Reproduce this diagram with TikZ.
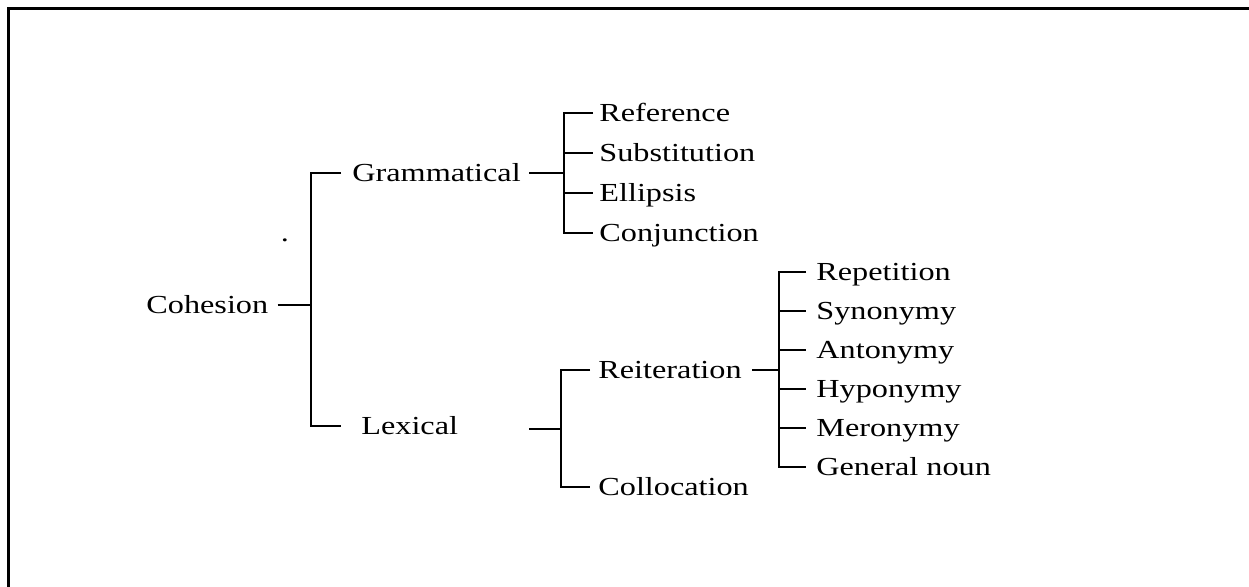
\documentclass[tikz,border=0pt]{standalone}
\usepackage{fontspec}
\setmainfont[FakeStretch=1.24]{Liberation Serif}

\begin{document}
\begin{tikzpicture}[
    x=0.5pt, y=-0.5pt,
    lbl/.style={anchor=west, inner sep=0pt, text height=8.5pt, text depth=0pt, font=\fontsize{13}{15}\selectfont},
    link/.style={line width=1.1pt},
    frame/.style={line width=1.5pt}
    ]
    \useasboundingbox (0,0) rectangle (1249,587);
    \draw[frame] (8,587) -- (8,9) -- (1249,9);

    \node[lbl] (coh) at (146,305) {Cohesion};
    \node[lbl] (gram) at (352,173) {Grammatical};
    \node[lbl] (lex) at (361,426) {Lexical};
    \node[anchor=base, inner sep=0pt, font=\fontsize{13}{15}\selectfont] (dot) at (285,242) {.};

    \node[lbl] (ref) at (599,113) {Reference};
    \node[lbl] (subst) at (599,153) {Substitution};
    \node[lbl] (ell) at (599,193) {Ellipsis};
    \node[lbl] (conj) at (599,233) {Conjunction};

    \node[lbl] (reit) at (598,370) {Reiteration};
    \node[lbl] (coll) at (598,487) {Collocation};

    \node[lbl] (rep) at (816,272) {Repetition};
    \node[lbl] (syn) at (816,311) {Synonymy};
    \node[lbl] (ant) at (816,350) {Antonymy};
    \node[lbl] (hyp) at (816,389) {Hyponymy};
    \node[lbl] (mer) at (816,428) {Meronymy};
    \node[lbl] (gen) at (816,467) {General noun};

    \coordinate (cj) at (311,305);
    \coordinate (gj) at (564,173);
    \coordinate (lexout) at (529,429);
    \coordinate (lj) at (561,429);
    \coordinate (rj) at (779,370);

    \draw[link] ([xshift=4.5pt]coh.east) -- (cj);
    \draw[link] ([xshift=-5.5pt]gram.west) -| (cj) |- ([xshift=-10pt]lex.west);

    \draw[link] ([xshift=4pt]gram.east) -- (gj);
    \draw[link] ([xshift=-3pt]ref.west) -| (gj) |- ([xshift=-3pt]conj.west);
    \draw[link] (gj |- subst.west) -- ([xshift=-3pt]subst.west);
    \draw[link] (gj |- ell.west) -- ([xshift=-3pt]ell.west);

    \draw[link] (lexout) -- (lj);
    \draw[link] ([xshift=-4pt]reit.west) -| (lj) |- ([xshift=-4pt]coll.west);

    \draw[link] ([xshift=5pt]reit.east) -- (rj);
    \draw[link] ([xshift=-5pt]rep.west) -| (rj) |- ([xshift=-5pt]gen.west);
    \draw[link] (rj |- syn.west) -- ([xshift=-5pt]syn.west);
    \draw[link] (rj |- ant.west) -- ([xshift=-5pt]ant.west);
    \draw[link] (rj |- hyp.west) -- ([xshift=-5pt]hyp.west);
    \draw[link] (rj |- mer.west) -- ([xshift=-5pt]mer.west);
  \end{tikzpicture}
\end{document}
